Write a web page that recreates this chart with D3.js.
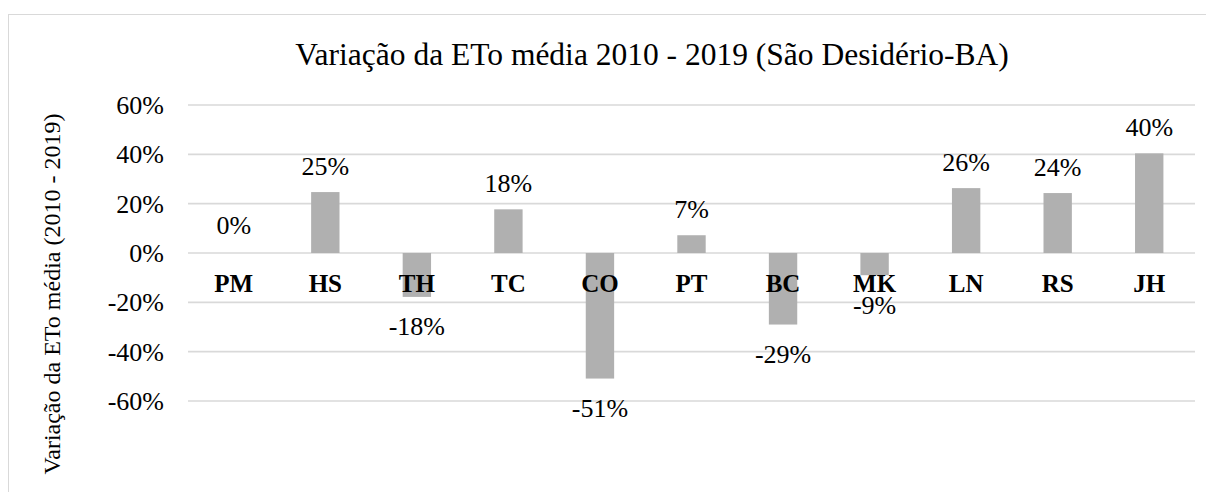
<!DOCTYPE html>
<html>
<head>
<meta charset="utf-8">
<script src="https://cdn.jsdelivr.net/npm/d3@7"></script>
<style>
  html, body { margin: 0; padding: 0; background: #fff; }
  svg { display: block; }
  svg text { font-family: "Liberation Serif", "Times New Roman", serif; }
</style>
</head>
<body>
<svg id="chart" width="1206" height="492"></svg>
<script>
const categories = ["PM", "HS", "TH", "TC", "CO", "PT", "BC", "MK", "LN", "RS", "JH"];
const values = [0, 24.7, -17.8, 17.7, -50.9, 7.2, -29.0, -9.0, 26.3, 24.3, 40.4];
const dataLabels = ["0%", "25%", "-18%", "18%", "-51%", "7%", "-29%", "-9%", "26%", "24%", "40%"];
const yTicks = [-60, -40, -20, 0, 20, 40, 60];
const title = "Variação da ETo média 2010 - 2019 (São Desidério-BA)";
const yTitle = "Variação da ETo média (2010 - 2019)";

const svg = d3.select("#chart");

// outer chart border
svg.append("rect")
  .attr("x", 8.5).attr("y", 14.5)
  .attr("width", 1400).attr("height", 700)
  .attr("fill", "#fff").attr("stroke", "#d9d9d9").attr("stroke-width", 1);

const x = d3.scaleBand().domain(categories).range([188, 1195])
  .paddingInner(0.69).paddingOuter(0.345);
const y = d3.scaleLinear().domain([-60, 60]).range([401, 105]);

// gridlines
svg.append("g").selectAll("line").data(yTicks).join("line")
  .attr("x1", 188).attr("x2", 1195)
  .attr("y1", d => y(d)).attr("y2", d => y(d))
  .attr("stroke", "#d9d9d9").attr("stroke-width", 1.6);

// y tick labels
svg.append("g").selectAll("text").data(yTicks).join("text")
  .attr("x", 164).attr("y", d => y(d) + 9)
  .attr("text-anchor", "end")
  .attr("font-size", 26)
  .attr("fill", "#000")
  .text(d => d + "%");

// bars
svg.append("g").selectAll("rect").data(values).join("rect")
  .attr("x", (d, i) => x(categories[i]))
  .attr("width", x.bandwidth())
  .attr("y", d => y(Math.max(0, d)))
  .attr("height", d => Math.abs(y(d) - y(0)))
  .attr("fill", "#b0b0b0");

// category labels
svg.append("g").selectAll("text").data(categories).join("text")
  .attr("x", d => x(d) + x.bandwidth() / 2).attr("y", 292)
  .attr("text-anchor", "middle")
  .attr("font-size", 25)
  .attr("font-weight", "bold")
  .attr("fill", "#000")
  .text(d => d);

// data labels
svg.append("g").selectAll("text").data(values).join("text")
  .attr("x", (d, i) => x(categories[i]) + x.bandwidth() / 2)
  .attr("y", d => d > 0 ? y(d) - 17 : (d === 0 ? y(0) - 19 : y(d) + 38.5))
  .attr("text-anchor", "middle")
  .attr("font-size", 26)
  .attr("fill", "#000")
  .text((d, i) => dataLabels[i]);

// title
svg.append("text")
  .attr("x", 652).attr("y", 65)
  .attr("text-anchor", "middle")
  .attr("font-size", 31.5)
  .attr("fill", "#000")
  .text(title);

// y axis title
svg.append("text")
  .attr("transform", "translate(60,294) rotate(-90)")
  .attr("text-anchor", "middle")
  .attr("font-size", 24)
  .attr("fill", "#000")
  .text(yTitle);
</script>
</body>
</html>
